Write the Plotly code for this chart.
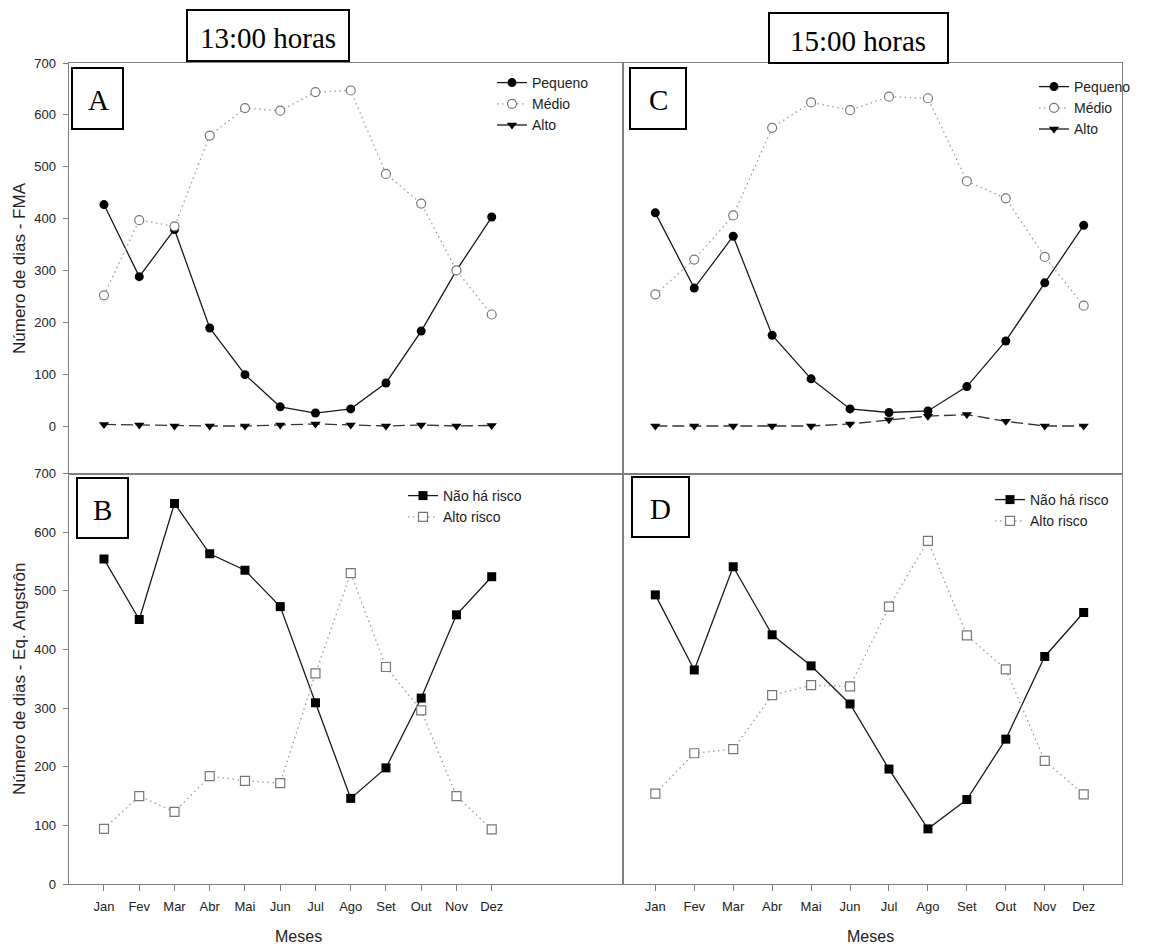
import plotly.graph_objects as go

# page body has an 8px margin; the figure is laid out in reference-page pixels minus that offset
OFF = 8
W, H = 1150, 940

months = ["Jan", "Fev", "Mar", "Abr", "Mai", "Jun", "Jul", "Ago", "Set", "Out", "Nov", "Dez"]

# Panel A (13:00 horas, FMA)
a_pequeno = [427, 288, 379, 189, 99, 37, 25, 33, 83, 183, 300, 403]
a_medio = [252, 397, 385, 560, 613, 608, 644, 647, 486, 429, 300, 215]
a_alto = [3, 2, 0, 0, 0, 2, 4, 2, 0, 2, 0, 1]
# Panel C (15:00 horas, FMA)
c_pequeno = [411, 266, 366, 175, 91, 33, 26, 29, 76, 164, 276, 387]
c_medio = [254, 321, 406, 575, 624, 609, 635, 632, 472, 439, 326, 232]
c_alto = [0, 0, 0, 0, 0, 4, 12, 19, 22, 9, 0, 0]
# Panel B (13:00 horas, Angstrom)
b_nao = [554, 451, 649, 563, 535, 473, 309, 146, 198, 317, 459, 524]
b_alto = [94, 150, 123, 184, 176, 172, 359, 530, 370, 296, 150, 93]
# Panel D (15:00 horas, Angstrom)
d_nao = [493, 365, 541, 425, 372, 307, 196, 94, 144, 247, 388, 463]
d_alto = [154, 223, 230, 322, 339, 337, 473, 585, 424, 366, 210, 153]

y_ticks = [0, 100, 200, 300, 400, 500, 600, 700]

SANS = "Liberation Sans, Arial, sans-serif"
SERIF = "Liberation Serif, Times New Roman, serif"
AXC = "#7f7f7f"
TXT = "#222222"


def px(x):
    return (x - OFF) / W


def py(y):
    return 1 - (y - OFF) / H


fig = go.Figure()

solid = dict(color="#1a1a1a", width=1.3)
dotted = dict(color="#9a9a9a", width=1.3, dash="1.5px,3.5px")
dashed = dict(color="#333333", width=1.3, dash="12px,5px")

circ_f = dict(symbol="circle", size=9, color="#000000")
circ_o = dict(symbol="circle", size=9, color="white", line=dict(color="#777777", width=1.2))
tri = dict(symbol="triangle-down", size=9, color="#000000")
sq_f = dict(symbol="square", size=9, color="#000000")
sq_o = dict(symbol="square", size=9, color="white", line=dict(color="#777777", width=1.2))


def add_fma(pequeno, medio, alto, xa, ya, leg):
    fig.add_trace(go.Scatter(x=months, y=alto, mode="lines+markers", line=dashed, marker=tri,
                             xaxis=xa, yaxis=ya, showlegend=False))
    fig.add_trace(go.Scatter(x=months, y=pequeno, mode="lines+markers", line=solid, marker=circ_f,
                             name="Pequeno", xaxis=xa, yaxis=ya, legend=leg))
    fig.add_trace(go.Scatter(x=months, y=medio, mode="lines+markers", line=dotted, marker=circ_o,
                             name="Médio", xaxis=xa, yaxis=ya, legend=leg))
    fig.add_trace(go.Scatter(x=[None], y=[None], mode="lines+markers", line=solid, marker=tri,
                             name="Alto", xaxis=xa, yaxis=ya, legend=leg))


def add_ang(nao, alto, xa, ya, leg):
    fig.add_trace(go.Scatter(x=months, y=nao, mode="lines+markers", line=solid, marker=sq_f,
                             name="Não há risco", xaxis=xa, yaxis=ya, legend=leg))
    fig.add_trace(go.Scatter(x=months, y=alto, mode="lines+markers", line=dotted, marker=sq_o,
                             name="Alto risco", xaxis=xa, yaxis=ya, legend=leg))


add_fma(a_pequeno, a_medio, a_alto, "x", "y", "legend")
add_fma(c_pequeno, c_medio, c_alto, "x2", "y2", "legend2")
add_ang(b_nao, b_alto, "x3", "y3", "legend3")
add_ang(d_nao, d_alto, "x4", "y4", "legend4")

LX = [px(68.5), px(623)]
RX = [px(623), px(1121.7)]
TY = [py(473.5), py(63)]
BY = [py(884), py(473.5)]

base_x = dict(type="category", categoryorder="array", categoryarray=months, showgrid=False,
              zeroline=False, showline=True, mirror=True, linecolor=AXC, linewidth=1,
              automargin=False, tickfont=dict(family=SANS, size=13, color=TXT))
base_y = dict(showgrid=False, zeroline=False, showline=True, mirror=True, linecolor=AXC, linewidth=1,
              automargin=False, tickfont=dict(family=SANS, size=13, color=TXT))

fig.update_layout(
    xaxis=dict(base_x, domain=LX, range=[-1.007, 14.725], anchor="y", showticklabels=False, ticks=""),
    yaxis=dict(base_y, domain=TY, range=[-91.6, 700], anchor="x", tickvals=y_ticks, ticks="outside",
               ticklen=5, tickcolor=AXC, ticklabelstandoff=4),
    xaxis2=dict(base_x, domain=RX, range=[-0.83, 11.976], anchor="y2", showticklabels=False, ticks=""),
    yaxis2=dict(base_y, domain=TY, range=[-91.6, 700], anchor="x2", showticklabels=False, ticks=""),
    xaxis3=dict(base_x, domain=LX, range=[-1.007, 14.725], anchor="y3", ticks="outside", ticklen=6,
                tickcolor=AXC, ticklabelstandoff=4),
    yaxis3=dict(base_y, domain=BY, range=[0, 700], anchor="x3", tickvals=y_ticks, ticks="outside",
                ticklen=5, tickcolor=AXC, ticklabelstandoff=4),
    xaxis4=dict(base_x, domain=RX, range=[-0.83, 11.976], anchor="y4", ticks="outside", ticklen=6,
                tickcolor=AXC, ticklabelstandoff=4),
    yaxis4=dict(base_y, domain=BY, range=[0, 700], anchor="x4", showticklabels=False, ticks=""),
)

leg_common = dict(bgcolor="rgba(0,0,0,0)", borderwidth=0, font=dict(family=SANS, size=14, color=TXT),
                  xanchor="left", yanchor="top", tracegroupgap=0, itemwidth=30)
fig.update_layout(
    legend=dict(leg_common, x=px(492), y=py(67)),
    legend2=dict(leg_common, x=px(1034), y=py(71)),
    legend3=dict(leg_common, x=px(403), y=py(480)),
    legend4=dict(leg_common, x=px(990), y=py(484)),
)

shapes = []
annotations = []


def box(x0, y0, x1, y1, text, size, tx, ty):
    shapes.append(dict(type="rect", xref="paper", yref="paper", x0=px(x0), x1=px(x1), y0=py(y1), y1=py(y0),
                       line=dict(color="black", width=2), fillcolor="white", layer="above"))
    annotations.append(dict(xref="paper", yref="paper", x=px(tx), y=py(ty), text=text, showarrow=False,
                            font=dict(family=SERIF, size=size, color="black"),
                            xanchor="center", yanchor="middle"))


box(187, 10, 349, 61, "13:00 horas", 29, 268, 38)
box(769, 13, 948, 63, "15:00 horas", 29, 858, 41)
box(72, 68, 123, 129, "A", 29, 98, 100)
box(630, 68, 686, 129, "C", 29, 658, 100)
box(77, 478, 128, 538, "B", 29, 102, 510)
box(632, 477, 689, 537, "D", 29, 660, 509)

annotations.append(dict(xref="paper", yref="paper", x=px(19), y=py(268), text="Número de dias - FMA",
                        textangle=-90, showarrow=False, font=dict(family=SANS, size=17, color=TXT),
                        xanchor="center", yanchor="middle"))
annotations.append(dict(xref="paper", yref="paper", x=px(19), y=py(679), text="Número de dias - Eq. Angstrôn",
                        textangle=-90, showarrow=False, font=dict(family=SANS, size=17, color=TXT),
                        xanchor="center", yanchor="middle"))
annotations.append(dict(xref="paper", yref="paper", x=px(298), y=py(947), text="Meses", showarrow=False,
                        font=dict(family=SANS, size=16, color=TXT), xanchor="center", yanchor="bottom"))
annotations.append(dict(xref="paper", yref="paper", x=px(870), y=py(947), text="Meses", showarrow=False,
                        font=dict(family=SANS, size=16, color=TXT), xanchor="center", yanchor="bottom"))

fig.update_layout(
    width=W, height=H, margin=dict(l=0, r=0, t=0, b=0),
    paper_bgcolor="white", plot_bgcolor="white",
    shapes=shapes, annotations=annotations,
)

fig.write_html("out.html")
